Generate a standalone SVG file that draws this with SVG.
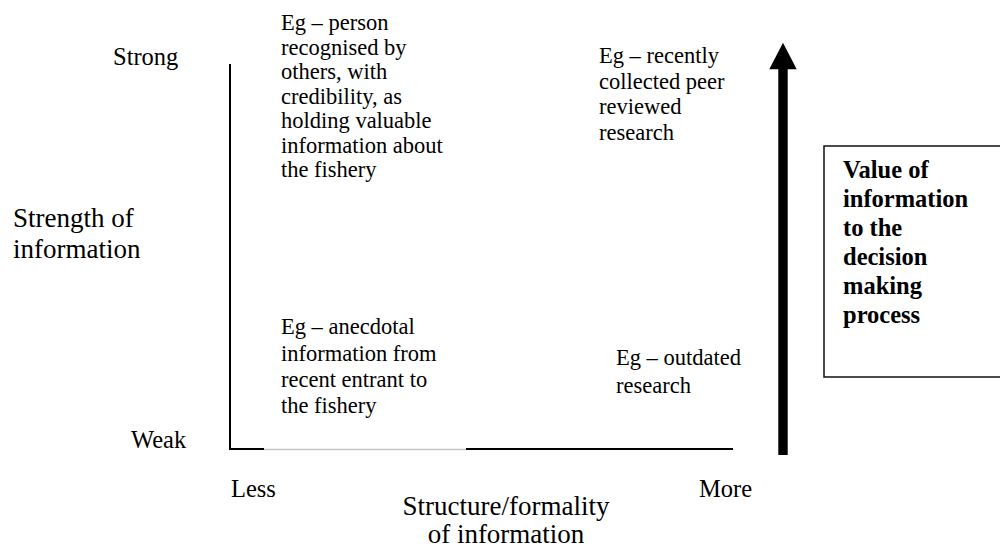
<svg xmlns="http://www.w3.org/2000/svg" width="1000" height="547" viewBox="0 0 1000 547">
<style>
text{font-family:"Liberation Serif","Times New Roman",serif;fill:#000}
.ax{font-size:24.5px}
.big{font-size:27px}
.ex{font-size:22.5px}
.val{font-size:24.5px;font-weight:bold}
.blk{stroke:#000;stroke-width:2;fill:none}
</style>
<rect width="1000" height="547" fill="#fff"/>
<g id="axes">
<line class="blk" x1="230" y1="64" x2="230" y2="450"/>
<line class="blk" x1="229" y1="449" x2="264" y2="449"/>
<line x1="264" y1="449.5" x2="466" y2="449.5" stroke="#c4c4c4" stroke-width="1.5"/>
<line class="blk" x1="466" y1="449" x2="733" y2="449"/>
</g>
<g id="axis-labels">
<text class="ax" x="113" y="65">Strong</text>
<text class="ax" x="131" y="448">Weak</text>
<text class="ax" x="231" y="497">Less</text>
<text class="ax" x="699" y="497">More</text>
<text class="big" x="13" y="227">Strength of</text>
<text class="big" x="13" y="258">information</text>
<text class="big" x="506" y="515" text-anchor="middle">Structure/formality</text>
<text class="big" x="506" y="543" text-anchor="middle">of information</text>
</g>
<g id="ex-strong-less">
<text class="ex" x="281" y="30">Eg – person</text>
<text class="ex" x="281" y="54.5">recognised by</text>
<text class="ex" x="281" y="79">others, with</text>
<text class="ex" x="281" y="103.5">credibility, as</text>
<text class="ex" x="281" y="128">holding valuable</text>
<text class="ex" x="281" y="152.5">information about</text>
<text class="ex" x="281" y="177">the fishery</text>
</g>
<g id="ex-strong-more">
<text class="ex" x="599" y="63">Eg – recently</text>
<text class="ex" x="599" y="88.5">collected peer</text>
<text class="ex" x="599" y="114">reviewed</text>
<text class="ex" x="599" y="140">research</text>
</g>
<g id="ex-weak-less">
<text class="ex" x="281" y="334">Eg – anecdotal</text>
<text class="ex" x="281" y="360.5">information from</text>
<text class="ex" x="281" y="387">recent entrant to</text>
<text class="ex" x="281" y="413">the fishery</text>
</g>
<g id="ex-weak-more">
<text class="ex" x="616" y="365">Eg – outdated</text>
<text class="ex" x="616" y="393">research</text>
</g>
<g id="value-arrow">
<rect x="778.3" y="68" width="9.4" height="387" fill="#000"/>
<polygon points="783,42.7 769.3,69.3 796.7,69.3" fill="#000"/>
</g>
<g id="value-box">
<rect x="824" y="146" width="200" height="231" fill="#fff" stroke="#111" stroke-width="1.5"/>
<text class="val" x="843" y="178">Value of</text>
<text class="val" x="843" y="207">information</text>
<text class="val" x="843" y="236">to the</text>
<text class="val" x="843" y="265">decision</text>
<text class="val" x="843" y="294">making</text>
<text class="val" x="843" y="323">process</text>
</g>
</svg>
